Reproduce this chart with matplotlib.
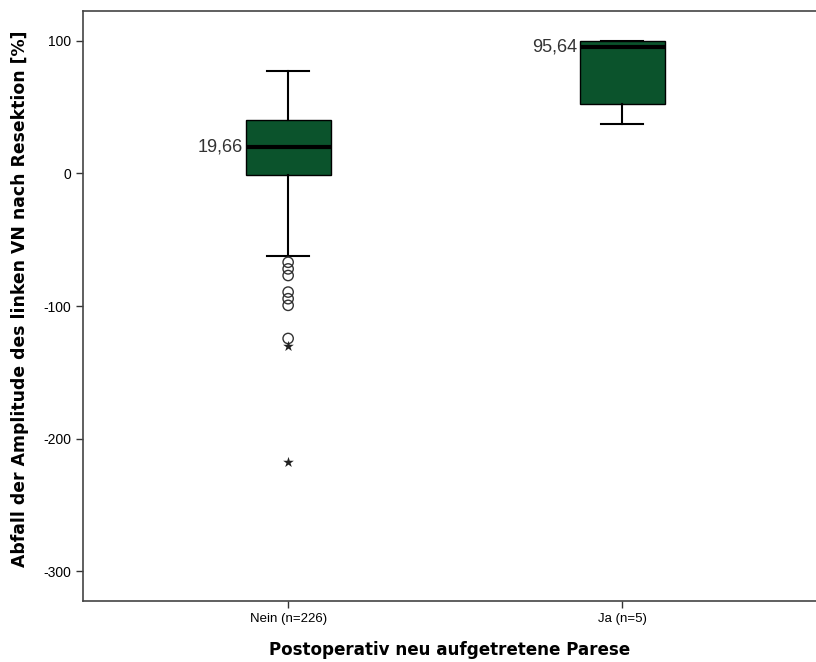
"""
plot.py - boxplot: drop in amplitude of the left VN after resection, by new postoperative paresis.
Saves out.png.
"""

import matplotlib
matplotlib.use("Agg")
import matplotlib.pyplot as plt

plt.rcParams["font.family"] = ["Liberation Sans", "DejaVu Sans"]

# groups and box statistics
groups   = ["Nein (n=226)", "Ja (n=5)"]
medians  = [19.66, 95.64]
q1       = [-1.5, 52.5]
q3       = [40.0, 100.0]
whislo   = [-62.5, 37.0]
whishi   = [77.5, 100.0]
med_text = ["19,66", "95,64"]

# outliers of the "Nein" group: circles (mild) and stars (extreme)
mild_out    = [-67.0, -72.0, -77.0, -89.5, -94.5, -99.5, -124.5]
extreme_out = [-130.5, -218.0]

GREEN = "#0b532c"

fig = plt.figure(figsize=(8.16, 6.62), dpi=100)
ax = fig.add_axes([83 / 816, 1 - 601 / 662, 1 - 83 / 816, 590 / 662])

stats = []
for i in range(len(groups)):
    stats.append(dict(med=medians[i], q1=q1[i], q3=q3[i],
                      whislo=whislo[i], whishi=whishi[i], fliers=[]))

pos = [1, 2]
ax.bxp(stats, positions=pos, widths=0.255, patch_artist=True,
       showfliers=False, manage_ticks=False,
       boxprops=dict(facecolor=GREEN, edgecolor="black", linewidth=1.0),
       medianprops=dict(color="black", linewidth=3),
       whiskerprops=dict(color="black", linewidth=1.5),
       capprops=dict(color="black", linewidth=1.5),
       capwidths=0.125)

ax.scatter([pos[0]] * len(mild_out), mild_out, s=55, marker="o",
           facecolors="none", edgecolors="#333333", linewidths=1.0, zorder=3)
ax.scatter([pos[0]] * len(extreme_out), extreme_out, s=65, marker="*",
           color="#222222", linewidths=0, zorder=3)

# median labels left of the boxes
for p, m, t in zip(pos, medians, med_text):
    ax.text(p - 0.135, m, t, ha="right", va="center", fontsize=13, color="#333333")

ax.set_xlim(0.386, 2.58)
ax.set_ylim(-322.6, 122.6)
ax.set_yticks([100, 0, -100, -200, -300])
ax.set_yticklabels(["100", "0", "-100", "-200", "-300"], fontsize=10)
ax.set_xticks(pos)
ax.set_xticklabels(groups, fontsize=9.5)
ax.tick_params(direction="out", length=5, width=1, colors="#333333", labelcolor="black")

ax.set_xlabel("Postoperativ neu aufgetretene Parese", fontsize=12.1, fontweight="bold",
              family="DejaVu Sans", labelpad=12)
ax.set_ylabel("Abfall der Amplitude des linken VN nach Resektion [%]", fontsize=12.4,
              fontweight="bold", family="DejaVu Sans")
ax.yaxis.set_label_coords(-0.074, 0.513)

for s in ["left", "bottom", "top"]:
    ax.spines[s].set_color("#444444")
    ax.spines[s].set_linewidth(1.2)
ax.spines["right"].set_visible(False)

fig.savefig("out.png", dpi=100)
